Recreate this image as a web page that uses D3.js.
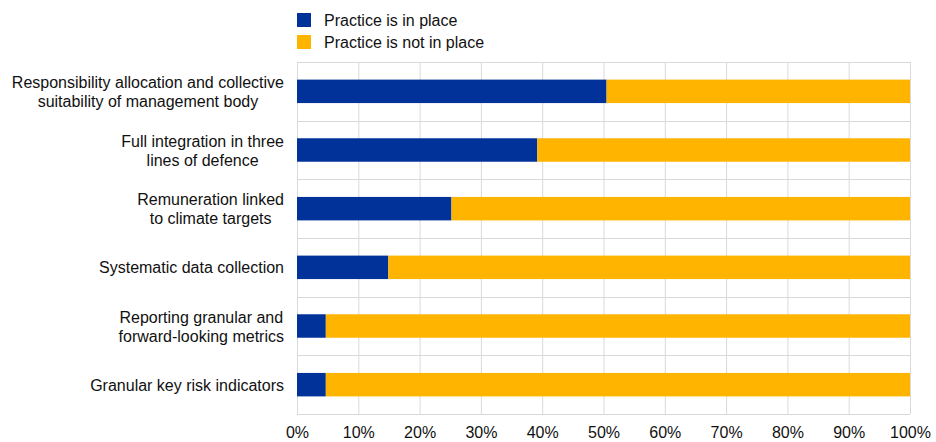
<!DOCTYPE html>
<html>
<head>
<meta charset="utf-8">
<script src="https://cdn.jsdelivr.net/npm/d3@7"></script>
<style>
  body { margin: 0; background: #fff; }
  text { font-family: "Liberation Sans", Arial, sans-serif; font-size: 16px; fill: #111; }
</style>
</head>
<body>
<svg width="936" height="442"></svg>
<script>
var categories = [
  ["Responsibility allocation and collective", "suitability of management body"],
  ["Full integration in three", "lines of defence"],
  ["Remuneration linked", "to climate targets"],
  ["Systematic data collection"],
  ["Reporting granular and", "forward-looking metrics"],
  ["Granular key risk indicators"]
];
var inPlace = [50.5, 39.2, 25.2, 14.9, 4.7, 4.7];
var notInPlace = inPlace.map(function (v) { return 100 - v; });
var seriesNames = ["Practice is in place", "Practice is not in place"];
var colors = ["#003299", "#FFB400"];
var ticks = [0, 10, 20, 30, 40, 50, 60, 70, 80, 90, 100];

var svg = d3.select("svg"),
    plotLeft = 297, plotRight = 910, plotTop = 62, plotBottom = 414;

var x = d3.scaleLinear().domain([0, 100]).range([plotLeft, plotRight]);
var y = d3.scaleBand()
  .domain(d3.range(categories.length))
  .range([plotTop, plotBottom])
  .paddingInner(0.6).paddingOuter(0.3);
var yg = d3.scaleBand().domain(d3.range(categories.length)).range([plotTop, plotBottom]);

var grid = svg.append("g");
grid.selectAll(".vg")
  .data(ticks)
  .enter().append("line")
    .attr("x1", function (d) { return x(d) + 0.5; })
    .attr("x2", function (d) { return x(d) + 0.5; })
    .attr("y1", plotTop).attr("y2", plotBottom)
    .attr("stroke", "#d9d9d9").attr("stroke-width", 1);
grid.selectAll(".hg")
  .data(d3.range(categories.length + 1))
  .enter().append("line")
    .attr("x1", plotLeft).attr("x2", plotRight)
    .attr("y1", function (d) { return Math.round(plotTop + d * yg.bandwidth()) + 0.5; })
    .attr("y2", function (d) { return Math.round(plotTop + d * yg.bandwidth()) + 0.5; })
    .attr("stroke", "#d9d9d9").attr("stroke-width", 1);

var rows = categories.map(function (c, i) { return [inPlace[i], notInPlace[i]]; });

svg.selectAll(".inbar")
  .data(rows)
  .enter().append("rect")
    .attr("x", x(0))
    .attr("y", function (d, i) { return y(i); })
    .attr("width", function (d) { return x(d[0]) - x(0); })
    .attr("height", y.bandwidth())
    .attr("fill", colors[0]);

svg.selectAll(".outbar")
  .data(rows)
  .enter().append("rect")
    .attr("x", function (d) { return x(d[0]); })
    .attr("y", function (d, i) { return y(i); })
    .attr("width", function (d) { return x(d[0] + d[1]) - x(d[0]); })
    .attr("height", y.bandwidth())
    .attr("fill", colors[1]);

// x axis tick labels
var xAxis = svg.append("g")
  .attr("transform", "translate(0," + plotBottom + ")")
  .call(d3.axisBottom(x).tickValues(ticks).tickSize(0).tickPadding(13)
    .tickFormat(function (d) { return d + "%"; }));
xAxis.select(".domain").remove();
xAxis.selectAll("text").style("font-size", "16px").style("font-family", "Liberation Sans, Arial, sans-serif").attr("fill", "#111");

// category labels, centred lines, right-aligned block
var labelRight = 284;
categories.forEach(function (lines, i) {
  var g = svg.append("g");
  var cy = yg(i) + yg.bandwidth() / 2;
  var lh = 19;
  var texts = lines.map(function (l, j) {
    return g.append("text")
      .attr("text-anchor", "middle")
      .attr("y", cy + (j - (lines.length - 1) / 2) * lh + 6)
      .text(l);
  });
  var w = d3.max(texts, function (t) { return t.node().getComputedTextLength(); });
  texts.forEach(function (t) { t.attr("x", labelRight - w / 2); });
});

// legend
var legend = svg.append("g");
seriesNames.forEach(function (name, i) {
  legend.append("rect")
    .attr("x", 297).attr("y", 13 + i * 22)
    .attr("width", 14).attr("height", 14)
    .attr("fill", colors[i]);
  legend.append("text")
    .attr("x", 324).attr("y", 26 + i * 22)
    .text(name);
});
</script>
</body>
</html>
